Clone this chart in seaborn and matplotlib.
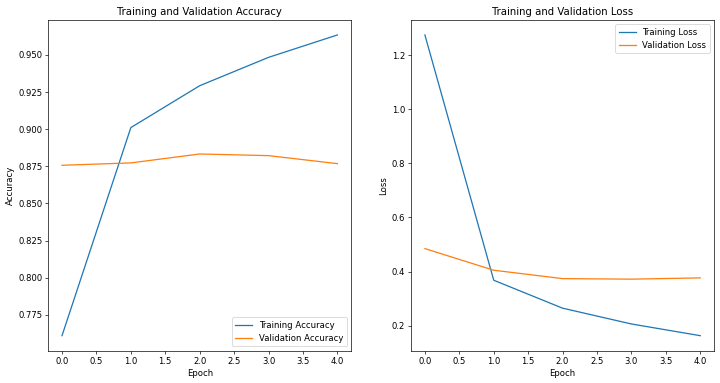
import matplotlib
matplotlib.use("Agg")
import matplotlib.pyplot as plt
import seaborn as sns
import numpy as np

epochs = [0, 1, 2, 3, 4]
train_acc = [0.7609, 0.9011, 0.9293, 0.9484, 0.9635]
val_acc = [0.8757, 0.8773, 0.8833, 0.8822, 0.8768]
train_loss = [1.275, 0.368, 0.2647, 0.2063, 0.163]
val_loss = [0.485, 0.405, 0.374, 0.372, 0.3767]

DPI = 61
fig, (ax1, ax2) = plt.subplots(1, 2, figsize=(720 / DPI, 383 / DPI), dpi=DPI)
fig.subplots_adjust(left=0.067, right=0.9917, top=0.948, bottom=0.0843, wspace=0.198)

sns.lineplot(x=epochs, y=train_acc, ax=ax1, label="Training Accuracy", color="#1f77b4")
sns.lineplot(x=epochs, y=val_acc, ax=ax1, label="Validation Accuracy", color="#ff7f0e")
ax1.set_title("Training and Validation Accuracy")
ax1.set_xlabel("Epoch")
ax1.set_ylabel("Accuracy")
ax1.legend(loc="lower right")

sns.lineplot(x=epochs, y=train_loss, ax=ax2, label="Training Loss", color="#1f77b4")
sns.lineplot(x=epochs, y=val_loss, ax=ax2, label="Validation Loss", color="#ff7f0e")
ax2.set_title("Training and Validation Loss")
ax2.set_xlabel("Epoch")
ax2.set_ylabel("Loss")
ax2.legend(loc="upper right")

fig.savefig("out.png", dpi=DPI)
